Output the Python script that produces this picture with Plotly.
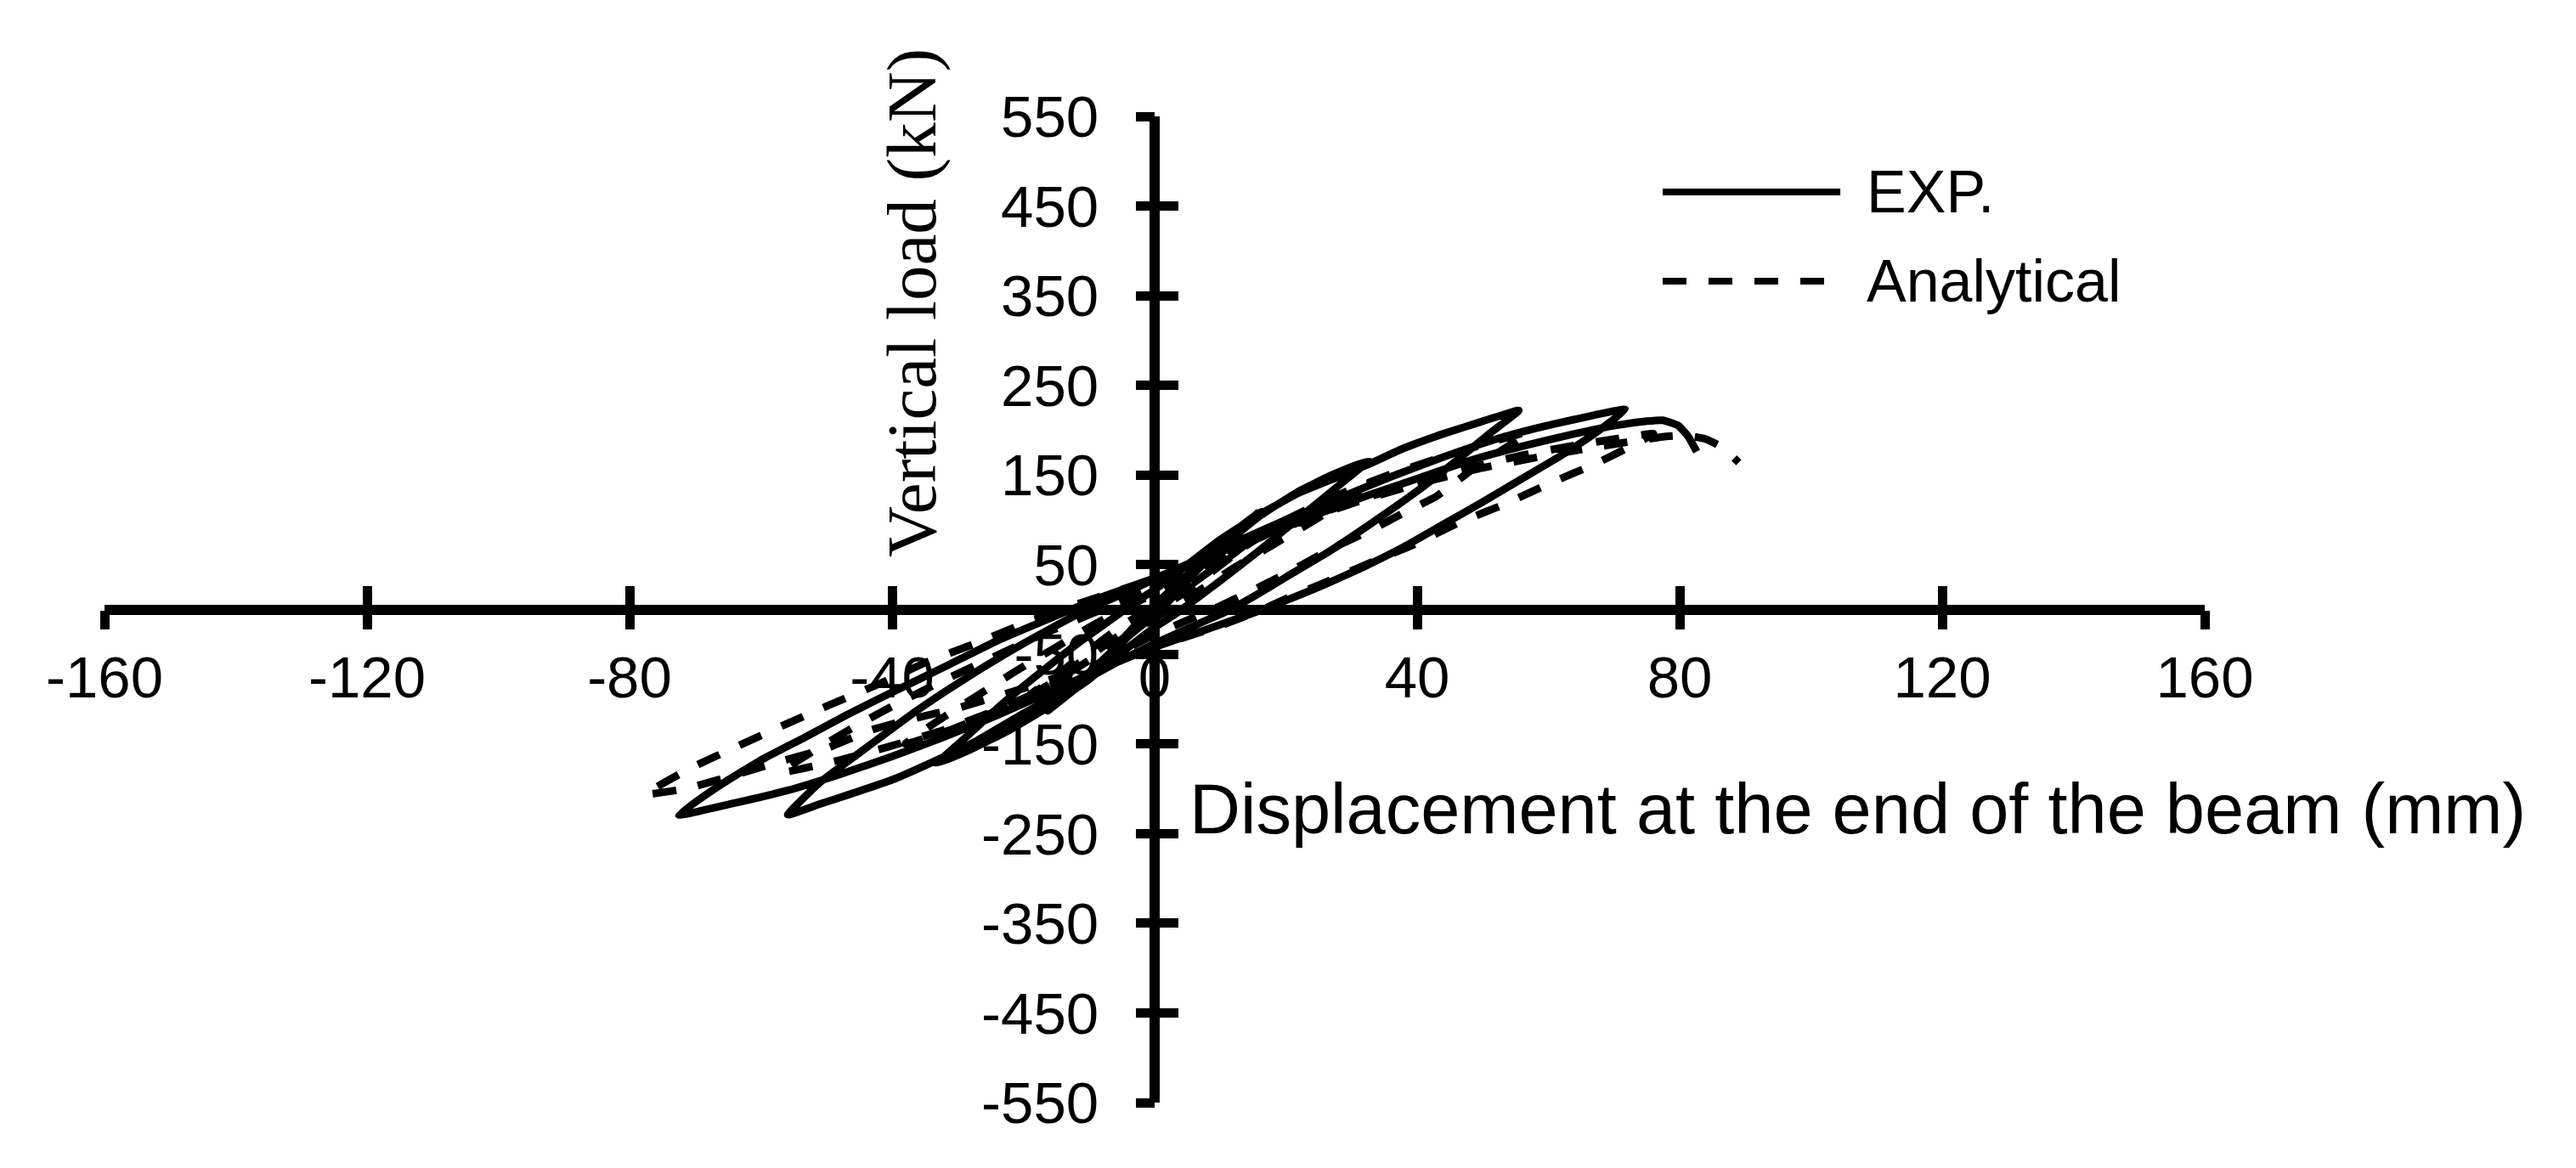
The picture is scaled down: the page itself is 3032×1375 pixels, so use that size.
import plotly.graph_objects as go

# ---- data ----
x_ticks = [-160, -120, -80, -40, 0, 40, 80, 120, 160]
y_ticks = [-550, -450, -350, -250, -150, -50, 50, 150, 250, 350, 450, 550]

exp_disp = [
    0, 3, 6, 4, 2, 0, -3, -6, -4, -2, 0,
    4, 8, 12, 16.1, 13, 9, 5, 2, 0, -4, -8, -12, -16.3, -13, -9, -5, -2, 0,
    4, 10, 16, 22, 27, 32.6, 28, 22, 16, 10, 6, 3, 0, -5, -10, -16, -22, -28, -33.2,
    -29, -23, -17, -11, -6, -3, 0,
    5, 10, 16, 22, 28, 32.6, 38, 44, 50, 55.5, 51, 46, 40, 33, 26, 20, 15, 11, 6, 0,
    -6, -12, -20, -27, -33.2, -40, -46, -51, -55.9, -51, -45, -38, -32, -26, -20, -14, -9, -4, 0,
    6, 12, 20, 28, 36, 44, 52, 58, 64, 71.7, 67, 62, 56, 50, 44, 38, 32, 26, 20, 15, 8, 0,
    -8, -16, -24, -32, -40, -48, -56, -64, -72.5, -66, -60, -53.4, -47, -41, -32, -24, -15, -8, 0,
    8, 16, 24, 32, 40, 48, 56, 64, 70, 75, 77.4, 79.8, 81.3, 82.6,
]
exp_load = [
    0, 20, 40, 24, 8, -6, -24, -42, -26, -10, 5,
    32, 60, 86, 110, 90, 62, 33, 12, -2, -30, -60, -88, -113, -92, -64, -36, -14, 2,
    30, 68, 104, 132, 150, 166, 138, 102, 66, 32, 10, -6, -20, -48, -78, -108, -134, -156, -172,
    -144, -104, -68, -34, -8, 8, 22,
    50, 78, 106, 130, 148, 162, 180, 196, 210, 222, 196, 166, 132, 96, 62, 36, 14, -2, -18, -38,
    -60, -84, -116, -146, -168, -190, -205, -217, -229, -193, -160, -122, -92, -64, -38, -14, 4, 20, 34,
    54, 74, 100, 124, 148, 170, 190, 202, 212, 223, 196, 172, 146, 120, 95, 70, 48, 28, 10, -4, -22, -42,
    -66, -92, -118, -142, -164, -184, -202, -216, -229, -195, -168, -143, -118, -96, -64, -35, -7, 14, 35,
    58, 82, 104, 126, 146, 166, 182, 196, 205, 210, 211, 205, 193, 176,
]

ana_disp = [
    0, 6, 12, 17, 13, 8, 4, 0, -6, -12, -19, -14, -9, -5, 0,
    6, 12, 18, 24, 30, 35, 30, 24, 18, 12, 7, 3, 0, -6, -12, -19, -25, -31, -38,
    -33, -27, -21, -15, -10, -5, 0,
    6, 12, 20, 28, 36, 43, 50, 57, 53, 48, 42.9, 38, 33.4, 27, 20, 14, 10, 5, 0,
    -8, -16, -24, -32, -40, -48, -57, -52, -46, -40, -33, -26, -19, -12, -6, 0,
    8, 16, 24, 32, 40, 48, 56, 64, 70, 76, 72, 67, 60, 53.2, 46.4, 39.4, 32.5, 25.6, 20, 16.5, 10, 0,
    -10, -20, -30, -38, -43, -50, -57.3, -64.6, -71.5, -77.6,
    -70.7, -63.7, -56.8, -50, -41.7, -34.5, -27, -19, -13, -6, 0,
    10, 20, 30, 40, 50, 60, 68, 74, 78, 81, 84, 86.5, 89,
]
ana_load = [
    0, 30, 62, 90, 66, 38, 16, -2, -32, -62, -95, -68, -40, -18, 4,
    34, 62, 90, 112, 132, 148, 125, 98, 72, 46, 22, 4, -10, -38, -66, -96, -116, -134, -150,
    -124, -96, -68, -42, -20, 0, 18,
    44, 68, 100, 128, 151, 168, 184, 198, 178, 154, 126, 108, 90, 68, 40, 18, 4, -12, -28,
    -58, -86, -112, -134, -152, -168, -182, -158, -132, -108, -82, -58, -34, -12, 6, 24,
    52, 80, 104, 124, 142, 158, 172, 183, 190, 196, 180, 162, 140, 117, 97, 72, 51, 29, 12, 0, -18, -42,
    -64, -88, -110, -124, -134, -155, -170, -186, -200, -206,
    -177, -153, -130, -108, -82, -58, -37, -13, 3, 20, 34,
    64, 92, 118, 140, 158, 172, 182, 189, 193, 194, 190, 181, 164,
]

SANS = "Liberation Sans, Arial, sans-serif"
SERIF = "Liberation Serif, Times New Roman, serif"

fig = go.Figure()

fig.add_trace(go.Scatter(
    x=exp_disp, y=exp_load, mode="lines", name="EXP.",
    line=dict(color="black", width=9, shape="spline", smoothing=0.4),
    showlegend=False,
))
fig.add_trace(go.Scatter(
    x=ana_disp, y=ana_load, mode="lines", name="Analytical",
    line=dict(color="black", width=9, dash="28px,26px", shape="spline", smoothing=0.4),
    showlegend=False,
))
# empty trace so the overlay axes (other half of the cross ticks) get drawn
fig.add_trace(go.Scatter(x=[], y=[], xaxis="x2", yaxis="y2", showlegend=False, hoverinfo="skip"))

# hyphen minus like the original, not the unicode minus plotly uses
x_labels = [str(v) for v in x_ticks]
y_labels = [str(v) for v in y_ticks]

axis_common = dict(
    showgrid=False, zeroline=False, showline=True, linecolor="black", linewidth=12,
    ticks="inside", ticklen=22, tickwidth=11, tickcolor="black",
    anchor="free", position=0.5, layer="below traces",
    tickfont=dict(family=SANS, size=69, color="black"),
)
overlay_common = dict(
    showgrid=False, zeroline=False, showline=False,
    ticks="outside", ticklen=22, tickwidth=11, tickcolor="black",
    anchor="free", position=0.5, showticklabels=False, layer="below traces",
)

# the page body has an 8px margin, so the figure is pulled in by 8px
fig.update_layout(
    width=3024, height=1367,
    margin=dict(l=115, r=437, t=129, b=77),
    paper_bgcolor="white", plot_bgcolor="white",
    xaxis=dict(range=[-160, 160], tickvals=x_ticks, ticktext=x_labels,
               ticklabelstandoff=15, **axis_common),
    yaxis=dict(range=[-550, 550], tickvals=y_ticks, ticktext=y_labels,
               ticklabelstandoff=46, **axis_common),
    xaxis2=dict(range=[-160, 160], tickvals=x_ticks, overlaying="x", **overlay_common),
    yaxis2=dict(range=[-550, 550], tickvals=y_ticks, overlaying="y", **overlay_common),
    showlegend=False,
)

# axis titles placed like the original
fig.add_annotation(
    text="Vertical load (kN)", xref="paper", yref="paper",
    x=0.3843, y=0.8114, xanchor="center", yanchor="middle", textangle=-90,
    showarrow=False, font=dict(family=SERIF, size=83, color="black"),
)
fig.add_annotation(
    text="Displacement at the end of the beam (mm)", xref="paper", yref="paper",
    x=0.8346, y=0.2972, xanchor="center", yanchor="middle",
    showarrow=False, font=dict(family=SANS, size=83, color="black"),
)

# legend drawn by hand (long sample lines)
legend_items = [("EXP.", "solid", 0.9233), ("Analytical", "28px,26px", 0.8329)]
for label, dash, ly in legend_items:
    fig.add_shape(type="line", xref="paper", yref="paper",
                  x0=0.7419, x1=0.8265, y0=ly, y1=ly,
                  line=dict(color="black", width=8, dash=dash))
    fig.add_annotation(text=label, xref="paper", yref="paper", x=0.8382, y=ly,
                       xanchor="left", yanchor="middle", showarrow=False,
                       font=dict(family=SANS, size=70, color="black"))

fig.write_html("out.html")
